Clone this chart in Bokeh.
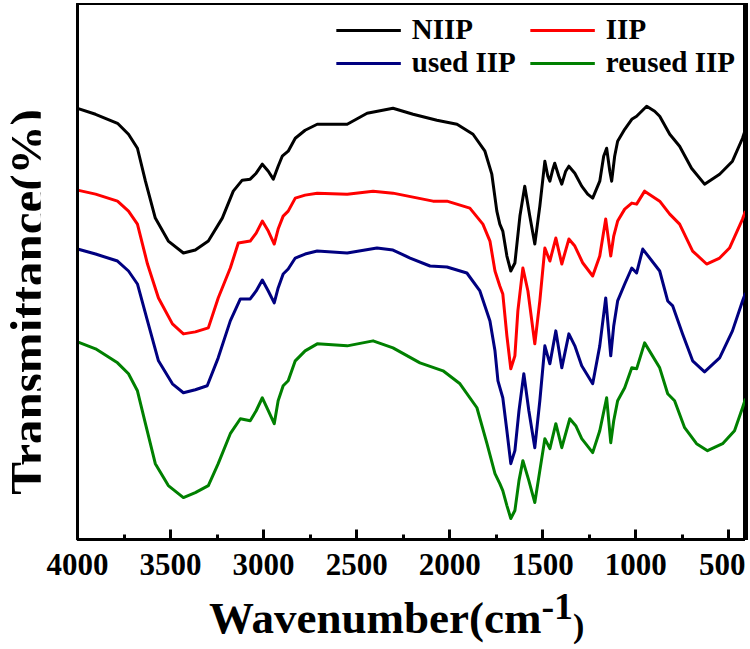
from bokeh.plotting import figure
from bokeh.models import (Range1d, SingleIntervalTicker, Legend, LegendItem, Div)
from bokeh.layouts import row, column
from bokeh.embed import file_html
from bokeh.resources import INLINE

# ---------------- data ----------------
# Transmittance values are in arbitrary, vertically offset units.
niip_wn = [4000, 3903, 3785, 3726, 3678, 3635, 3582, 3512, 3431, 3367, 3297, 3222, 3163,
           3115, 3072, 3040, 3007, 2975, 2948, 2922, 2900, 2868, 2830, 2777, 2712, 2551,
           2444, 2305, 2197, 2069, 1961, 1875, 1811, 1774, 1747, 1731, 1715, 1693, 1672,
           1650, 1623, 1597, 1570, 1543, 1516, 1489, 1473, 1462, 1446, 1436, 1414, 1398,
           1377, 1360, 1328, 1291, 1259, 1232, 1194, 1173, 1157, 1140, 1130, 1114, 1098,
           1060, 1022, 996, 942, 899, 872, 818, 765, 701, 631, 550, 481, 427, 411]
niip_t = [493, 487, 478, 467, 453, 420, 383, 360, 348, 351, 360, 383, 410,
          421, 422, 428, 437, 430, 422, 435, 445, 450, 463, 471, 477, 477,
          488, 493, 487, 481, 477, 467, 450, 427, 390, 377, 370, 345, 330,
          338, 385, 415, 385, 357, 395, 440, 425, 420, 432, 438, 425, 417,
          430, 435, 428, 415, 407, 403, 420, 445, 453, 430, 420, 445, 460,
          472, 482, 485, 495, 490, 485, 467, 455, 433, 417, 427, 440, 463, 472]

iip_wn = [4000, 3903, 3785, 3726, 3678, 3624, 3565, 3490, 3431, 3367, 3297, 3244, 3179,
          3136, 3072, 3040, 3007, 2975, 2943, 2922, 2895, 2868, 2830, 2777, 2712, 2551,
          2412, 2305, 2090, 2015, 1892, 1822, 1784, 1757, 1731, 1715, 1693, 1672, 1650,
          1634, 1607, 1580, 1543, 1516, 1489, 1462, 1430, 1398, 1360, 1328, 1285, 1232,
          1194, 1162, 1135, 1119, 1098, 1060, 1022, 996, 953, 872, 818, 765, 695, 620,
          550, 497, 427, 411]
iip_t = [411, 407, 400, 390, 377, 337, 303, 277, 267, 269, 273, 303, 333,
         358, 360, 368, 380, 370, 357, 372, 385, 390, 403, 406, 408, 407,
         410, 408, 400, 400, 393, 377, 360, 330, 315, 307, 265, 232, 245,
         290, 333, 310, 257, 300, 353, 340, 363, 337, 362, 355, 338, 325,
         345, 382, 345, 365, 380, 392, 398, 397, 410, 400, 387, 377, 350, 337,
         343, 353, 382, 390]

used_wn = [4000, 3903, 3785, 3726, 3678, 3624, 3565, 3490, 3431, 3367, 3303, 3244, 3179,
           3125, 3072, 3040, 3007, 2975, 2943, 2922, 2895, 2868, 2830, 2777, 2712, 2551,
           2391, 2305, 2213, 2106, 2015, 1908, 1838, 1784, 1757, 1741, 1715, 1693, 1672,
           1650, 1628, 1602, 1575, 1543, 1516, 1489, 1462, 1430, 1398, 1360, 1328, 1291,
           1232, 1194, 1162, 1135, 1119, 1098, 1060, 1022, 996, 963, 872, 829, 802, 749,
           695, 631, 550, 481, 427, 411]
used_t = [352, 347, 340, 330, 317, 280, 240, 217, 208, 211, 215, 243, 280,
          302, 302, 310, 321, 310, 298, 313, 327, 332, 343, 347, 350, 348,
          353, 351, 343, 335, 334, 328, 310, 280, 250, 220, 203, 170, 137,
          150, 190, 227, 190, 153, 200, 255, 237, 270, 233, 267, 255, 235,
          217, 255, 303, 245, 275, 300, 317, 333, 328, 352, 330, 300, 295, 267,
          240, 229, 243, 270, 300, 308]

reused_wn = [4000, 3903, 3785, 3726, 3678, 3635, 3582, 3512, 3431, 3367, 3297, 3244, 3179,
             3125, 3072, 3040, 3007, 2975, 2943, 2922, 2895, 2868, 2830, 2777, 2712, 2551,
             2412, 2305, 2160, 2036, 1945, 1854, 1800, 1757, 1731, 1715, 1693, 1672, 1650,
             1628, 1607, 1575, 1543, 1516, 1489, 1462, 1430, 1398, 1355, 1323, 1291, 1232,
             1194, 1157, 1135, 1119, 1098, 1060, 1022, 996, 953, 872, 829, 792, 738, 674,
             615, 534, 470, 427, 411]
reused_t = [259, 252, 238, 227, 210, 177, 137, 115, 103, 108, 115, 137, 167,
            182, 180, 190, 203, 190, 177, 200, 215, 220, 240, 250, 257, 255,
            260, 253, 238, 230, 217, 193, 157, 127, 117, 110, 95, 82, 90,
            120, 140, 120, 98, 130, 162, 152, 177, 153, 182, 175, 162, 148,
            170, 203, 158, 180, 200, 213, 233, 232, 258, 233, 207, 200, 173, 157,
            150, 157, 170, 193, 202]

series_names = ["NIIP", "IIP", "used IIP", "reused IIP"]
series_colors = ["#000000", "#FF0000", "#000080", "#008000"]
x_ticks_interval = 500
x_title = "Wavenumber(cm"
x_title_sup = "-1"
y_title = "Transmittance(%)"

SERIF = "Liberation Serif"

# ---------------- sizes ----------------
YDIV_W = 40          # column holding the y title
BAR = 3              # thickness of the top / right frame edges
FIG_W, FIG_H = 705, 586
B_LEFT, B_BOTTOM = 37, 50
XDIV_H = 58
frame_w = FIG_W - B_LEFT
frame_h = FIG_H - B_BOTTOM

# ---------------- figure ----------------
x_rng = Range1d(4000, 411)
y_rng = Range1d(61, 598)
p = figure(width=FIG_W, height=FIG_H, output_backend="svg", toolbar_location=None,
           x_range=x_rng, y_range=y_rng,
           min_border_left=B_LEFT, min_border_right=0,
           min_border_top=0, min_border_bottom=B_BOTTOM)
p.xgrid.visible = False
p.ygrid.visible = False
p.outline_line_color = "black"
p.outline_line_width = 3
p.background_fill_color = "white"
p.border_fill_color = "white"

xa = p.xaxis[0]
xa.ticker = SingleIntervalTicker(interval=x_ticks_interval, num_minor_ticks=2)
xa.axis_line_width = 3
xa.major_tick_in = 10
xa.major_tick_out = 0
xa.minor_tick_in = 5
xa.minor_tick_out = 0
xa.major_tick_line_width = 3
xa.minor_tick_line_width = 3
xa.major_label_text_font = SERIF
xa.major_label_text_font_style = "bold"
xa.major_label_text_font_size = "31px"
xa.major_label_text_color = "black"
xa.major_label_standoff = 14

ya = p.yaxis[0]
ya.axis_line_width = 3
ya.axis_line_color = "black"
ya.major_tick_line_color = None
ya.minor_tick_line_color = None
ya.major_tick_out = 0
ya.minor_tick_out = 0
ya.major_label_text_font_size = "0px"
ya.major_label_text_color = None
ya.major_label_standoff = 0

renderers = []
for xs, ys, c in zip([niip_wn, iip_wn, used_wn, reused_wn],
                     [niip_t, iip_t, used_t, reused_t], series_colors):
    r = p.line(xs, ys, line_color=c, line_width=3, line_join="round")
    renderers.append(r)

legend = Legend(items=[LegendItem(label=n, renderers=[r]) for n, r in zip(series_names, renderers)],
                orientation="horizontal", ncols=2, location="top_right",
                label_text_font=SERIF, label_text_font_style="bold",
                label_text_font_size="29px", label_text_color="black",
                glyph_width=65, glyph_height=30, label_width=118, label_height=30,
                label_standoff=11, spacing=0, padding=6, margin=10,
                border_line_color=None, background_fill_alpha=0)
p.add_layout(legend, "center")

# ---------------- frame top / right edges as layout bars ----------------
top_bar = Div(width=FIG_W + BAR, height=BAR, margin=(0, 0, 0, 0), text=(
    '<div style="margin-left:%dpx;width:%dpx;height:%dpx;background:#000"></div>'
    % (B_LEFT - 1, frame_w + BAR + 1, BAR)))
right_bar = Div(width=BAR, height=FIG_H, margin=(0, 0, 0, 0), text=(
    '<div style="width:%dpx;height:%dpx;background:#000"></div>' % (BAR, frame_h + 1)))

# ---------------- axis titles as real text ----------------
total_h = BAR + FIG_H + XDIV_H
ydiv = Div(width=YDIV_W, height=total_h, margin=(0, 0, 0, 0), text=(
    '<div style="width:40px;height:%dpx;position:relative">' % total_h
    + '<div style="position:absolute;left:28px;top:302px;'
    'transform:translate(-50%,-50%) rotate(-90deg);white-space:nowrap;'
    "font-family:'Liberation Serif';font-weight:bold;font-size:49px;line-height:0.8;color:#000\">"
    + y_title + '</div></div>'))

xdiv = Div(width=FIG_W + BAR, height=XDIV_H, margin=(0, 0, 0, 0), text=(
    "<div style=\"padding-left:169px;white-space:nowrap;font-family:'Liberation Serif';"
    'font-weight:bold;font-size:45px;line-height:58px;color:#000">'
    + x_title +
    '<span style="position:relative;top:-14px;font-size:38px">' + x_title_sup + '</span>'
    '<span style="position:relative;top:4px;font-size:34px">)</span></div>'))

layout = row(ydiv,
             column(top_bar, row(p, right_bar, spacing=0), xdiv, spacing=0),
             spacing=0)

open("out.html", "w").write(file_html(layout, INLINE))
